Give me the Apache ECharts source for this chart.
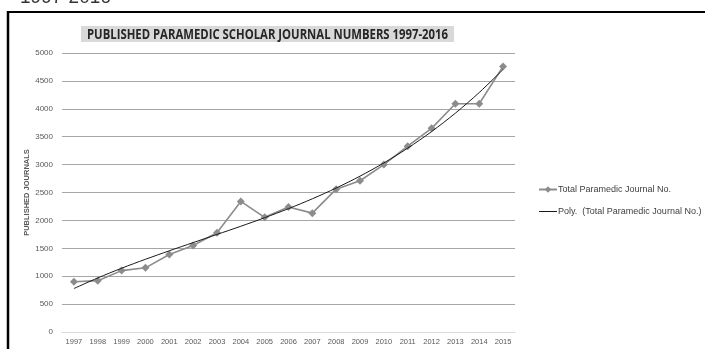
<!DOCTYPE html>
<html>
<head>
<meta charset="utf-8">
<script src="https://cdn.jsdelivr.net/npm/echarts@6/dist/echarts.min.js"></script>
<style>
  html, body { margin: 0; padding: 0; background: #fff; }
  #chart { width: 705px; height: 349px; }
</style>
</head>
<body>
<div id="chart"></div>
<script>
// Publication years on the category axis
const years = ['1997','1998','1999','2000','2001','2002','2003','2004','2005','2006',
               '2007','2008','2009','2010','2011','2012','2013','2014','2015'];

// Journals published per year
const journalCounts = [900, 920, 1100, 1150, 1390, 1550, 1780, 2340, 2055, 2240,
                       2130, 2560, 2710, 3000, 3330, 3650, 4090, 4090, 4760];

// Polynomial trend line through the yearly counts
const trendValues = [779, 969, 1143, 1303, 1455, 1602, 1748, 1895, 2048, 2211,
                     2387, 2580, 2793, 3030, 3295, 3591, 3922, 4292, 4704];

// Value-axis ticks
const yMin = 0, yMax = 5000, yStep = 500;

const seriesName = 'Total Paramedic Journal No.';
const trendName = 'Poly.  (Total Paramedic Journal No.)';
const titleText = 'PUBLISHED PARAMEDIC SCHOLAR JOURNAL NUMBERS 1997-2016';

// Title band: a grey box with a condensed bold caption squeezed to fit it
const titleBox = { x: 81, y: 26, w: 373, h: 16 };
const titleFont = 'bold 15px "Open Sans", sans-serif';
const measureCtx = document.createElement('canvas').getContext('2d');
measureCtx.font = titleFont;
const titleScale = (titleBox.w - 12) / measureCtx.measureText(titleText).width;

const chart = echarts.init(document.getElementById('chart'), null, { renderer: 'canvas' });

chart.setOption({
  backgroundColor: '#ffffff',
  animation: false,
  legend: {
    orient: 'vertical',
    left: 533,
    top: 180,
    itemGap: 13,
    itemWidth: 18,
    itemHeight: 8,
    textStyle: {
      fontFamily: '"Liberation Sans", sans-serif',
      fontSize: 9,
      color: '#404040',
      padding: [0, 0, 0, -4]
    },
    data: [
      { name: seriesName },
      { name: trendName, icon: 'path://M0,0 L18,0 L18,1 L0,1 Z' }
    ]
  },
  grid: {
    left: 62,
    right: 190,
    top: 53,
    bottom: 17,
    containLabel: false
  },
  xAxis: {
    type: 'category',
    data: years,
    boundaryGap: true,
    axisLine: { show: true, lineStyle: { color: '#d9d9d9', width: 1 } },
    axisTick: { show: false },
    axisLabel: {
      margin: 6,
      fontFamily: '"Liberation Sans", sans-serif',
      fontSize: 7.5,
      color: '#595959',
      interval: 0
    }
  },
  yAxis: {
    type: 'value',
    min: yMin,
    max: yMax,
    interval: yStep,
    name: 'PUBLISHED JOURNALS',
    nameLocation: 'middle',
    nameRotate: 90,
    nameGap: 31,
    nameMoveOverlap: false,
    nameTextStyle: {
      fontFamily: '"Liberation Sans", sans-serif',
      fontSize: 7.5,
      fontWeight: 'bold',
      color: '#595959'
    },
    axisLine: { show: false },
    axisTick: { show: false },
    axisLabel: {
      margin: 9,
      fontFamily: '"Liberation Sans", sans-serif',
      fontSize: 8,
      color: '#595959',
      formatter: (v) => String(v)
    },
    splitLine: { lineStyle: { color: '#a6a6a6', width: 1 } }
  },
  series: [
    {
      name: seriesName,
      type: 'line',
      data: journalCounts,
      symbol: 'diamond',
      symbolSize: 8,
      itemStyle: { color: '#8c8c8c' },
      lineStyle: { color: '#8c8c8c', width: 1.6 },
      z: 2
    },
    {
      name: trendName,
      type: 'line',
      data: trendValues,
      symbol: 'none',
      smooth: 0.3,
      itemStyle: { color: '#1a1a1a' },
      lineStyle: { color: '#1a1a1a', width: 1 },
      z: 3
    }
  ],
  graphic: [
    // heading of the page above the chart frame
    {
      type: 'text',
      left: 20,
      top: -12,
      style: {
        text: '1997-2016',
        fontFamily: '"Liberation Sans", sans-serif',
        fontSize: 19,
        fill: '#333333'
      }
    },
    // chart frame: left and top rules
    {
      type: 'line',
      shape: { x1: 8, y1: 11, x2: 8, y2: 349 },
      style: { stroke: '#000000', lineWidth: 2.5 }
    },
    {
      type: 'line',
      shape: { x1: 7, y1: 12, x2: 705, y2: 12 },
      style: { stroke: '#000000', lineWidth: 2 }
    },
    // chart title
    {
      type: 'rect',
      shape: { x: titleBox.x, y: titleBox.y, width: titleBox.w, height: titleBox.h },
      style: { fill: '#d9d9d9' }
    },
    {
      type: 'text',
      x: titleBox.x + titleBox.w / 2,
      y: titleBox.y + titleBox.h / 2 + 0.5,
      scaleX: titleScale,
      style: {
        text: titleText,
        font: titleFont,
        fill: '#262626',
        align: 'center',
        verticalAlign: 'middle'
      }
    }
  ]
});
</script>
</body>
</html>
